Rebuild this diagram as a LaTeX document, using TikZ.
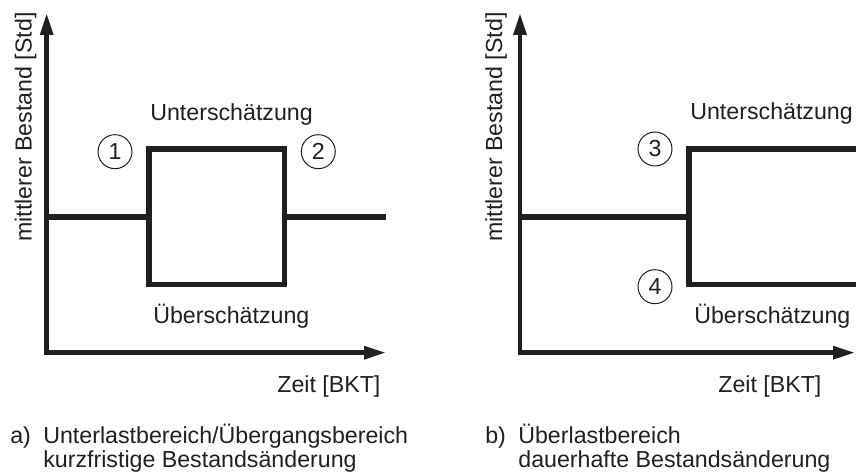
\documentclass[tikz,border=0pt]{standalone}
\usepackage{fontspec}
\setmainfont{Liberation Sans}
\usetikzlibrary{arrows.meta}

\definecolor{ink}{RGB}{35,31,32}

\tikzset{
  axis/.style={color=ink, line width=0.09cm, -{Triangle[length=0.44cm, width=0.25cm]}},
  curve/.style={color=ink, line width=0.11cm},
  lbl/.style={color=ink, inner sep=0pt, anchor=base west, font=\fontsize{13.2}{16}\selectfont},
  num/.style={color=ink, draw, circle, line width=0.02cm, minimum size=0.68cm, inner sep=0pt, font=\fontsize{13.2}{16}\selectfont}
}

\begin{document}
\begin{tikzpicture}[x=0.02cm, y=0.02cm]
\useasboundingbox (0,0) rectangle (856,475);

% a) kurzfristige Aenderung
\coordinate (oa) at (46.7,122.3);
\draw[axis] (oa) -- (386,122.3);
\draw[axis] (46.7,120) -- (46.7,462);
\draw[curve] (oa |- 0,258) -- (149,258);
\draw[curve] (149,190.7) rectangle (284.3,326);
\draw[curve] (284.3,258) -- (386,258);

\node[num] (n1) at (115,323.3) {1};
\node[num] (n2) at (318.3,323.3) {2};
\node[lbl] (ua) at (150,354) {Unterschätzung};
\node[lbl] (oea) at (153,151) {Überschätzung};
\node[lbl] (za) at (277,82) {Zeit [BKT]};
\node[lbl, rotate=90, anchor=base east] (ya) at (31.5,463) {mittlerer Bestand [Std]};
\node[lbl] (ca) at (10,31) {a)};
\node[lbl] (ca1) at (43,31) {Unterlastbereich/Übergangsbereich};
\node[lbl] (ca2) at (43,7) {kurzfristige Bestandsänderung};

% b) dauerhafte Aenderung
\coordinate (ob) at (520,122.3);
\draw[axis] (ob) -- (855,122.3);
\draw[axis] (520,120) -- (520,462);
\draw[curve] (ob |- 0,258) -- (689,258);
\draw[curve] (856,326) -- (689,326) -- (689,190.7) -- (856,190.7);

\node[num] (n3) at (655,326) {3};
\node[num] (n4) at (655,188.3) {4};
\node[lbl] (ub) at (690,355) {Unterschätzung};
\node[lbl] (oeb) at (694,151) {Überschätzung};
\node[lbl] (zb) at (718,82) {Zeit [BKT]};
\node[lbl, rotate=90, anchor=base east] (yb) at (502,463) {mittlerer Bestand [Std]};
\node[lbl] (cb) at (485,31) {b)};
\node[lbl] (cb1) at (518,31) {Überlastbereich};
\node[lbl] (cb2) at (518,7) {dauerhafte Bestandsänderung};
\end{tikzpicture}
\end{document}
